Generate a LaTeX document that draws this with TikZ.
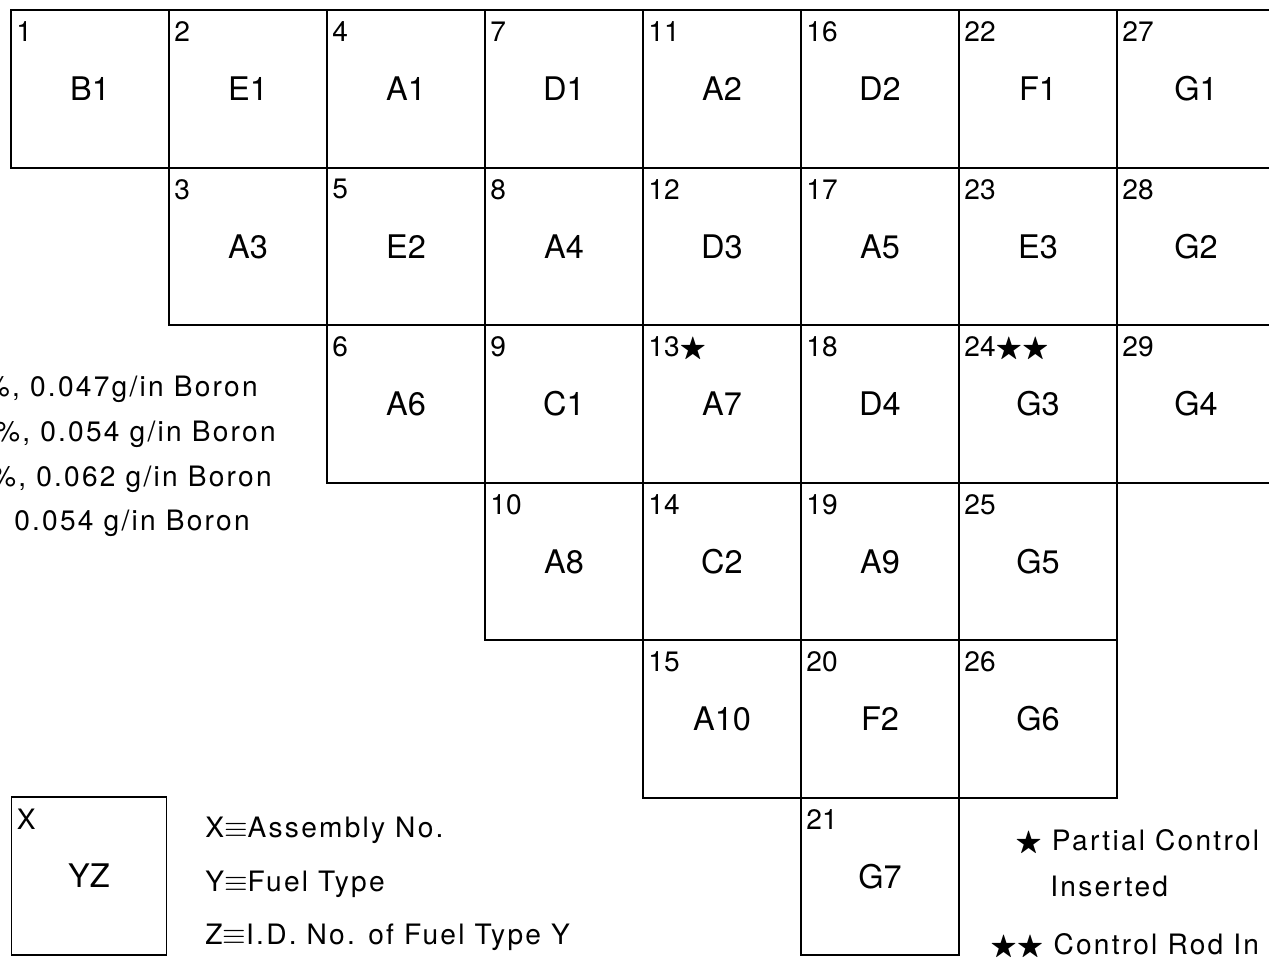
\documentclass[tikz,border=0pt]{standalone}
\usepackage{amsmath, amssymb}
\usepackage{fontspec}
\setmainfont{TeX Gyre Heros}
\newfontfamily\legendfont[LetterSpace=8]{TeX Gyre Heros}
\usetikzlibrary{calc}

\tikzset{
  cell/.style={draw, line width=1.1pt, minimum width=3.16cm, minimum height=3.15cm,
    inner sep=0pt, font=\fontsize{18.5}{21}\selectfont},
  cellno/.style={anchor=north west, inner sep=0pt, font=\fontsize{16}{19}\selectfont},
  legendtext/.style={anchor=base west, inner sep=0pt, font=\legendfont\fontsize{16}{19}\selectfont},
}

\begin{document}
\begin{tikzpicture}[x=0.02cm, y=-0.02cm]
  \useasboundingbox (0,0) rectangle (1269,958);
  \clip (0,0) rectangle (1269,958);
  % assemblies: number/column/row/fuel/label
  \foreach \n/\col/\row/\fuel/\lbl in {1/0/0/B1/1, 2/1/0/E1/2, 4/2/0/A1/4, 7/3/0/D1/7,
      11/4/0/A2/11, 16/5/0/D2/16, 22/6/0/F1/22, 27/7/0/G1/27,
      3/1/1/A3/3, 5/2/1/E2/5, 8/3/1/A4/8, 12/4/1/D3/12, 17/5/1/A5/17,
      23/6/1/E3/23, 28/7/1/G2/28,
      6/2/2/A6/6, 9/3/2/C1/9, 13/4/2/A7/{13$\bigstar$}, 18/5/2/D4/18,
      24/6/2/G3/{24$\bigstar\bigstar$}, 29/7/2/G4/29,
      10/3/3/A8/10, 14/4/3/C2/14, 19/5/3/A9/19, 25/6/3/G5/25,
      15/4/4/A10/15, 20/5/4/F2/20, 26/6/4/G6/26,
      21/5/5/G7/21}
  {
    \node[cell] (c\n) at ({90+158*\col}, {89+157.5*\row}) {\fuel};
    \node[cellno] (n\n) at ($(c\n.north west)+(6,12)$) {\lbl};
  }
  % key box
  \node[cell, minimum width=3.1cm] (key) at (89,876) {YZ};
  \node[cellno] (keyno) at ($(key.north west)+(6,12)$) {X};
  \node[legendtext] (keyx) at (205,837) {X$\equiv$Assembly No.};
  \node[legendtext] (keyy) at (205,891) {Y$\equiv$Fuel Type};
  \node[legendtext] (keyz) at (205,944) {Z$\equiv$I.D. No. of Fuel Type Y};
  % boron loading (cut at left edge)
  \node[legendtext, anchor=base east] (boron1) at (258,396) {\%, 0.047g/in Boron};
  \node[legendtext, anchor=base east] (boron2) at (276,441) {\%, 0.054 g/in Boron};
  \node[legendtext, anchor=base east] (boron3) at (272,486) {\%, 0.062 g/in Boron};
  \node[legendtext, anchor=base east] (boron4) at (250,530) {0.054 g/in Boron};
  % control rods
  \node[legendtext] (rod1) at (1015,850) {$\bigstar$ Partial Control};
  \node[legendtext] (rod1b) at (1050,896) {Inserted};
  \node[legendtext] (rod2) at (990,954) {$\bigstar\bigstar$ Control Rod In};
\end{tikzpicture}
\end{document}
